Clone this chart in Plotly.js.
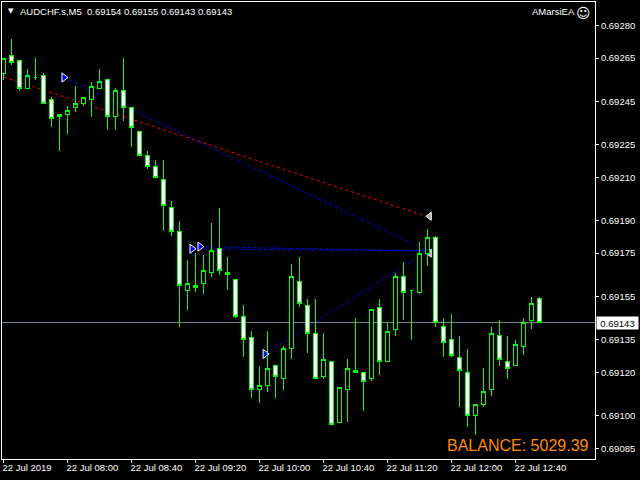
<!DOCTYPE html>
<html><head><meta charset="utf-8">
<script src="https://cdn.plot.ly/plotly-3.0.1.min.js"></script>
<style>html,body{margin:0;padding:0;background:#000;overflow:hidden}
.boxlayer path{shape-rendering:crispEdges !important}</style>
</head><body><div id="chart" style="width:640px;height:480px"></div>
<script>
const open_ = [0.69258,0.69266,0.69264,0.69251,0.69256,0.69257,0.69246,0.69238,0.69239,0.69242,0.69244,0.69246,0.69251,0.69255,0.69238,0.69250,0.69242,0.69231,0.69220,0.69215,0.69209,0.69196,0.69185,0.69158,0.69159,0.69161,0.69166,0.69177,0.69166,0.69163,0.69146,0.69136,0.69112,0.69114,0.69123,0.69117,0.69131,0.69162,0.69151,0.69138,0.69118,0.69125,0.69097,0.69112,0.69121,0.69120,0.69117,0.69150,0.69125,0.69140,0.69164,0.69158,0.69157,0.69175,0.69182,0.69141,0.69135,0.69127,0.69120,0.69100,0.69105,0.69112,0.69137,0.69125,0.69123,0.69132,0.69144,0.69154];
const high = [0.69265,0.69274,0.69264,0.69260,0.69265,0.69258,0.69247,0.69239,0.69243,0.69252,0.69247,0.69254,0.69260,0.69255,0.69251,0.69265,0.69242,0.69231,0.69222,0.69218,0.69218,0.69199,0.69190,0.69172,0.69175,0.69174,0.69189,0.69196,0.69173,0.69163,0.69151,0.69139,0.69123,0.69139,0.69123,0.69132,0.69170,0.69173,0.69154,0.69154,0.69138,0.69125,0.69113,0.69126,0.69145,0.69120,0.69149,0.69154,0.69143,0.69166,0.69171,0.69158,0.69180,0.69186,0.69183,0.69145,0.69147,0.69137,0.69131,0.69105,0.69122,0.69141,0.69144,0.69137,0.69135,0.69145,0.69155,0.69155];
const low = [0.69255,0.69262,0.69250,0.69251,0.69255,0.69244,0.69233,0.69222,0.69230,0.69240,0.69243,0.69238,0.69251,0.69232,0.69232,0.69236,0.69224,0.69220,0.69214,0.69210,0.69185,0.69183,0.69141,0.69149,0.69157,0.69156,0.69164,0.69165,0.69158,0.69145,0.69127,0.69108,0.69106,0.69111,0.69108,0.69112,0.69126,0.69150,0.69129,0.69117,0.69117,0.69096,0.69097,0.69097,0.69120,0.69102,0.69116,0.69119,0.69125,0.69137,0.69144,0.69135,0.69156,0.69169,0.69141,0.69127,0.69127,0.69104,0.69095,0.69091,0.69104,0.69109,0.69123,0.69117,0.69123,0.69128,0.69140,0.69143];
const close_ = [0.69265,0.69263,0.69251,0.69257,0.69256,0.69244,0.69237,0.69239,0.69241,0.69244,0.69247,0.69252,0.69254,0.69238,0.69250,0.69242,0.69233,0.69220,0.69215,0.69210,0.69197,0.69185,0.69160,0.69161,0.69160,0.69167,0.69176,0.69167,0.69165,0.69146,0.69135,0.69112,0.69114,0.69122,0.69118,0.69131,0.69164,0.69152,0.69138,0.69117,0.69126,0.69096,0.69113,0.69122,0.69120,0.69116,0.69149,0.69125,0.69139,0.69164,0.69157,0.69158,0.69175,0.69182,0.69143,0.69134,0.69128,0.69121,0.69100,0.69105,0.69111,0.69138,0.69126,0.69122,0.69133,0.69143,0.69152,0.69143];
const barIndex = open_.map((_, i) => i);

const timeTickBars = [0,8,16,24,32,40,48,56,64];
const timeTickLabels = ["22 Jul 2019","22 Jul 08:00","22 Jul 08:40","22 Jul 09:20","22 Jul 10:00","22 Jul 10:40","22 Jul 11:20","22 Jul 12:00","22 Jul 12:40"];
const priceTicks = [0.69280,0.69265,0.69245,0.69225,0.69210,0.69190,0.69175,0.69155,0.69135,0.69120,0.69100,0.69085];
const priceTickLabels = ["0.69280","0.69265","0.69245","0.69225","0.69210","0.69190","0.69175","0.69155","0.69135","0.69120","0.69100","0.69085"];

const currentPrice = 0.69143;
const redTradeX = [0, 52.8];
const redTradeY = [0.692563, 0.69192];
const blueTrades = [
  {x:[7.56,53.06], y:[0.69256,0.69176]},
  {x:[23.56,53.06], y:[0.69177,0.69176]},
  {x:[24.56,53.06], y:[0.69178,0.69176]},
  {x:[32.7,53.06], y:[0.691285,0.69176]}
];
const entryX = [7.56,23.56,24.56,32.7];
const entryY = [0.69256,0.69177,0.69178,0.691285];
const exitX = [53.25,53.25];
const exitY = [0.69192,0.69175];

const W=640,H=480,L=2,R=45,T=2,B=21;
const xRange=[-0.1875,-0.1875+(W-L-R)/8];
const pxPerUnit=216800;
const yTop=0.69280+23.5/pxPerUnit, yBot=0.69280-(H-B-25.5)/pxPerUnit;
const font="Liberation Sans, Arial, sans-serif";

const traces=[
 {type:'scatter',mode:'lines',x:xRange,y:[currentPrice,currentPrice],line:{color:'#778899',width:1},hoverinfo:'skip'},
 {type:'scatter',mode:'lines',x:redTradeX,y:redTradeY,line:{color:'#ff0000',width:1,dash:'3px,3px'},hoverinfo:'skip'},
 ...blueTrades.map(t=>({type:'scatter',mode:'lines',x:t.x,y:t.y,line:{color:'#0000ff',width:1,dash:'3px,3px'},hoverinfo:'skip'})),
 {type:'scatter',mode:'markers',x:entryX,y:entryY,marker:{symbol:'triangle-right',size:8,color:'#0000ff',line:{color:'#ffffff',width:1}},hoverinfo:'skip'},
 {type:'scatter',mode:'markers',x:exitX,y:exitY,marker:{symbol:'triangle-left',size:7,color:'#a9a9a9',line:{color:'#ffffff',width:1}},hoverinfo:'skip'},
 {type:'candlestick',xaxis:'x2',yaxis:'y2',x:barIndex,open:open_,high:high,low:low,close:close_,whiskerwidth:0,
  increasing:{line:{color:'#00ff00',width:1},fillcolor:'#000000'},
  decreasing:{line:{color:'#00ff00',width:1},fillcolor:'#ffffff'},hoverinfo:'skip'}
];
const tfont={family:font,size:9.5,color:'#ffffff'};
const layout={
 width:W,height:H,showlegend:false,paper_bgcolor:'#000',plot_bgcolor:'#000',
 margin:{l:L,r:R,t:T,b:B,pad:0},boxgap:0.4,
 xaxis:{range:xRange,tickmode:'array',tickvals:timeTickBars,ticktext:timeTickLabels,ticks:'outside',ticklen:3,tickcolor:'#fff',tickwidth:1,
   ticklabelposition:'outside right',ticklabelshift:-2,tickfont:tfont,showgrid:false,zeroline:false,showline:true,linecolor:'#fff',linewidth:1,mirror:true,fixedrange:true},
 yaxis:{range:[yBot,yTop],side:'right',tickmode:'array',tickvals:priceTicks,ticktext:priceTickLabels,ticks:'outside',ticklen:3,tickcolor:'#fff',tickwidth:1,
   tickfont:tfont,showgrid:false,zeroline:false,showline:true,linecolor:'#fff',linewidth:1,mirror:true,fixedrange:true},
 xaxis2:{overlaying:'x',range:xRange,visible:false,rangeslider:{visible:false},fixedrange:true},
 yaxis2:{overlaying:'y',range:[yBot,yTop],visible:false,fixedrange:true},
 annotations:[
  {xref:'paper',yref:'paper',x:0,y:1,xshift:5,yshift:-4,xanchor:'left',yanchor:'top',showarrow:false,text:'▼',font:{family:'DejaVu Sans',size:7,color:'#fff'},borderpad:0},
  {xref:'paper',yref:'paper',x:0,y:1,xshift:17,yshift:-3,xanchor:'left',yanchor:'top',showarrow:false,text:'AUDCHF.s,M5  0.69154 0.69155 0.69143 0.69143',font:{family:font,size:9.5,color:'#fff'},borderpad:0},
  {xref:'paper',yref:'paper',x:1,y:1,xshift:-19,yshift:-3,xanchor:'right',yanchor:'top',showarrow:false,text:'AMarsiEA',font:{family:font,size:9.5,color:'#fff'},borderpad:0},
  {xref:'paper',yref:'paper',x:1,y:1,xshift:-3,yshift:-2,xanchor:'right',yanchor:'top',showarrow:false,text:'☺',font:{family:'DejaVu Sans',size:14,color:'#fff'},borderpad:0},
  {xref:'paper',yref:'paper',x:1,y:0,xshift:-5,yshift:4,xanchor:'right',yanchor:'bottom',showarrow:false,text:'BALANCE: 5029.39',font:{family:font,size:16,color:'#ff8c00'},borderpad:0},
  {xref:'paper',yref:'y',x:1,y:currentPrice,xshift:1,xanchor:'left',yanchor:'middle',showarrow:false,text:'0.69143',bgcolor:'#fff',font:{family:font,size:9.5,color:'#000'},borderpad:0,width:41,height:12,align:'center'}
 ]
};
Plotly.newPlot('chart',traces,layout,{displayModeBar:false,staticPlot:true});
</script></body></html>
